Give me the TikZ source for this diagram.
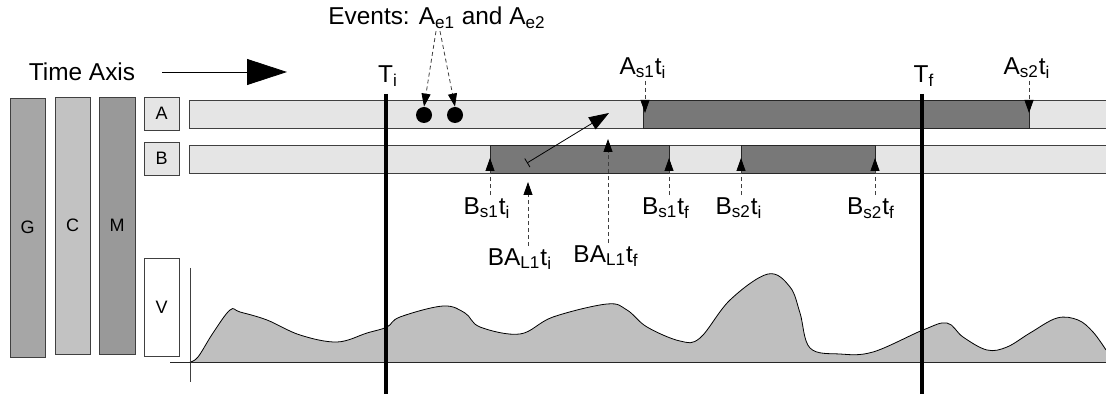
\documentclass[tikz,border=0pt]{standalone}
\usepackage{fontspec}
\setmainfont{Liberation Sans}
\usetikzlibrary{arrows.meta, positioning, calc}

\begin{document}
\begin{tikzpicture}[
	x=0.5pt, y=-0.5pt,
	font=\fontsize{12.2}{14}\selectfont,
	% Track styles
	sidebar/.style={draw=black!75, minimum width=17.5pt, minimum height=128.5pt, inner sep=0pt, font=\small},
	rowtag/.style={draw=black!75, fill=black!10, minimum width=17.5pt, minimum height=16.5pt, inner sep=0pt, font=\small},
	bar/.style={draw=black!75, fill=black!10},
	busy/.style={draw=black!85, fill=black!53},
	tline/.style={line width=2pt},
	% Marker styles
	cue arrow/.style={dash pattern=on 2pt off 1.5pt, draw=black!75, -{Triangle[length=6.5pt,width=4.5pt,fill=black,color=black]}},
	lbl/.style={inner sep=1pt},
	evdot/.style={circle, fill=black, minimum size=8pt, inner sep=0pt}
	]
	\useasboundingbox (0,0) rectangle (1106,394);
	
	% ==============================================================================
	% HEADER
	% ==============================================================================
	\node[lbl] (timeaxis) at (82,72) {Time Axis};
	\coordinate (axfrom) at (162,72);
	\coordinate (axto) at (287,72);
	\draw[-{Triangle[length=20pt,width=13pt]}] (axfrom) -- (axto);
	
	% ==============================================================================
	% SIDE BLOCKS AND ROW TAGS
	% ==============================================================================
	\node[sidebar, fill=black!35, minimum height=129.5pt] (G) at (27.5,227.5) {G};
	\node[sidebar, fill=black!24] (C) at (72.5,225.5) {C};
	\node[sidebar, fill=black!40, minimum width=18pt] (M) at (117,225.5) {M};
	
	\node[rowtag] (A) at (161.5,113.5) {A};
	\node[rowtag] (B) at (161.5,158.5) {B};
	\node[rowtag, fill=white, minimum height=49pt] (V) at (161.5,307) {V};
	
	% ==============================================================================
	% TRACKS
	% ==============================================================================
	\draw[bar] (189,100) rectangle (1112,128);
	\draw[bar] (189,145) rectangle (1112,173);
	
	\draw[busy] (643,100) rectangle (1029,128);
	\draw[busy] (490,145) rectangle (669,173);
	\draw[busy] (741,145) rectangle (875,173);
	
	% signal
	\fill[black!25] plot[smooth, tension=0.6] coordinates {
		(190,362) (198,357) (213,333) (230,310) (240,312) (267,320) (300,335)
		(337,342) (367,333) (387,327) (400,317) (443,306) (465,313) (480,327)
		(520,334) (553,317) (607,304) (627,310) (647,327) (680,341) (700,338)
		(730,300) (768,274) (790,287) (800,313) (810,348) (840,354) (873,352)
		(923,330) (947,323) (963,337) (987,350) (1007,347) (1030,333) (1057,318)
		(1078,320) (1093,332) (1106,350)} -- (1106,362) -- (190,362) -- cycle;
	\draw plot[smooth, tension=0.6] coordinates {
		(190,362) (198,357) (213,333) (230,310) (240,312) (267,320) (300,335)
		(337,342) (367,333) (387,327) (400,317) (443,306) (465,313) (480,327)
		(520,334) (553,317) (607,304) (627,310) (647,327) (680,341) (700,338)
		(730,300) (768,274) (790,287) (800,313) (810,348) (840,354) (873,352)
		(923,330) (947,323) (963,337) (987,350) (1007,347) (1030,333) (1057,318)
		(1078,320) (1093,332) (1106,350)};
	\draw[black!75] (190,268) -- (190,382);
	\draw[black!85] (170,362) -- (1106,362);
	
	% ==============================================================================
	% TIME LIMITS
	% ==============================================================================
	\node[lbl] (Ti) at (388,76) {T\textsubscript{i}};
	\node[lbl] (Tf) at (924,76) {T\textsubscript{f}};
	\draw[tline] (386,94) -- (386,394);
	\draw[tline] (922,94) -- (922,394);
	
	% ==============================================================================
	% EVENTS AND MARKERS
	% ==============================================================================
	\node[lbl] (events) at (437,18) {Events: A\textsubscript{e1} and A\textsubscript{e2}};
	\node[evdot] (dot1) at (424,115) {};
	\node[evdot] (dot2) at (455,115) {};
	\draw[cue arrow] ([xshift=-0.5pt]events.south) -- (dot1.north);
	\draw[cue arrow] ([xshift=1.5pt]events.south) -- (dot2.north);
	
	% A starts
	\node[lbl] (as1) at (643,68) {A\textsubscript{s1}t\textsubscript{i}};
	\node[lbl] (as2) at (1027,68) {A\textsubscript{s2}t\textsubscript{i}};
	\coordinate (as1tip) at (645,113);
	\coordinate (as2tip) at (1029,113);
	\draw[cue arrow] (as1tip |- as1.south) -- (as1tip);
	\draw[cue arrow] (as2tip |- as2.south) -- (as2tip);
	
	% B starts and ends
	\node[lbl] (bs1i) at (487,208) {B\textsubscript{s1}t\textsubscript{i}};
	\node[lbl] (bs1f) at (666,208) {B\textsubscript{s1}t\textsubscript{f}};
	\node[lbl] (bs2i) at (739,208) {B\textsubscript{s2}t\textsubscript{i}};
	\node[lbl] (bs2f) at (871,208) {B\textsubscript{s2}t\textsubscript{f}};
	\coordinate (bs1itip) at (490,158);
	\coordinate (bs1ftip) at (669,158);
	\coordinate (bs2itip) at (741,158);
	\coordinate (bs2ftip) at (875,158);
	\draw[cue arrow] (bs1itip |- bs1i.north) -- (bs1itip);
	\draw[cue arrow] (bs1ftip |- bs1f.north) -- (bs1ftip);
	\draw[cue arrow] (bs2itip |- bs2i.north) -- (bs2itip);
	\draw[cue arrow] (bs2ftip |- bs2f.north) -- (bs2ftip);
	
	% B to A link
	\node[lbl] (bal1i) at (520,259) {BA\textsubscript{L1}t\textsubscript{i}};
	\node[lbl] (bal1f) at (606,256) {BA\textsubscript{L1}t\textsubscript{f}};
	\coordinate (bal1itip) at (528,182);
	\coordinate (bal1ftip) at (608,139);
	\draw[cue arrow] (bal1itip |- bal1i.north) -- (bal1itip);
	\draw[cue arrow] (bal1ftip |- bal1f.north) -- (bal1ftip);
	
	\coordinate (lnkfrom) at (527,163);
	\coordinate (lnkto) at (609,113);
	\draw[{Bar[width=5pt]}-{Triangle[length=10pt,width=7pt]}] (lnkfrom) -- (lnkto);
	
\end{tikzpicture}
\end{document}
